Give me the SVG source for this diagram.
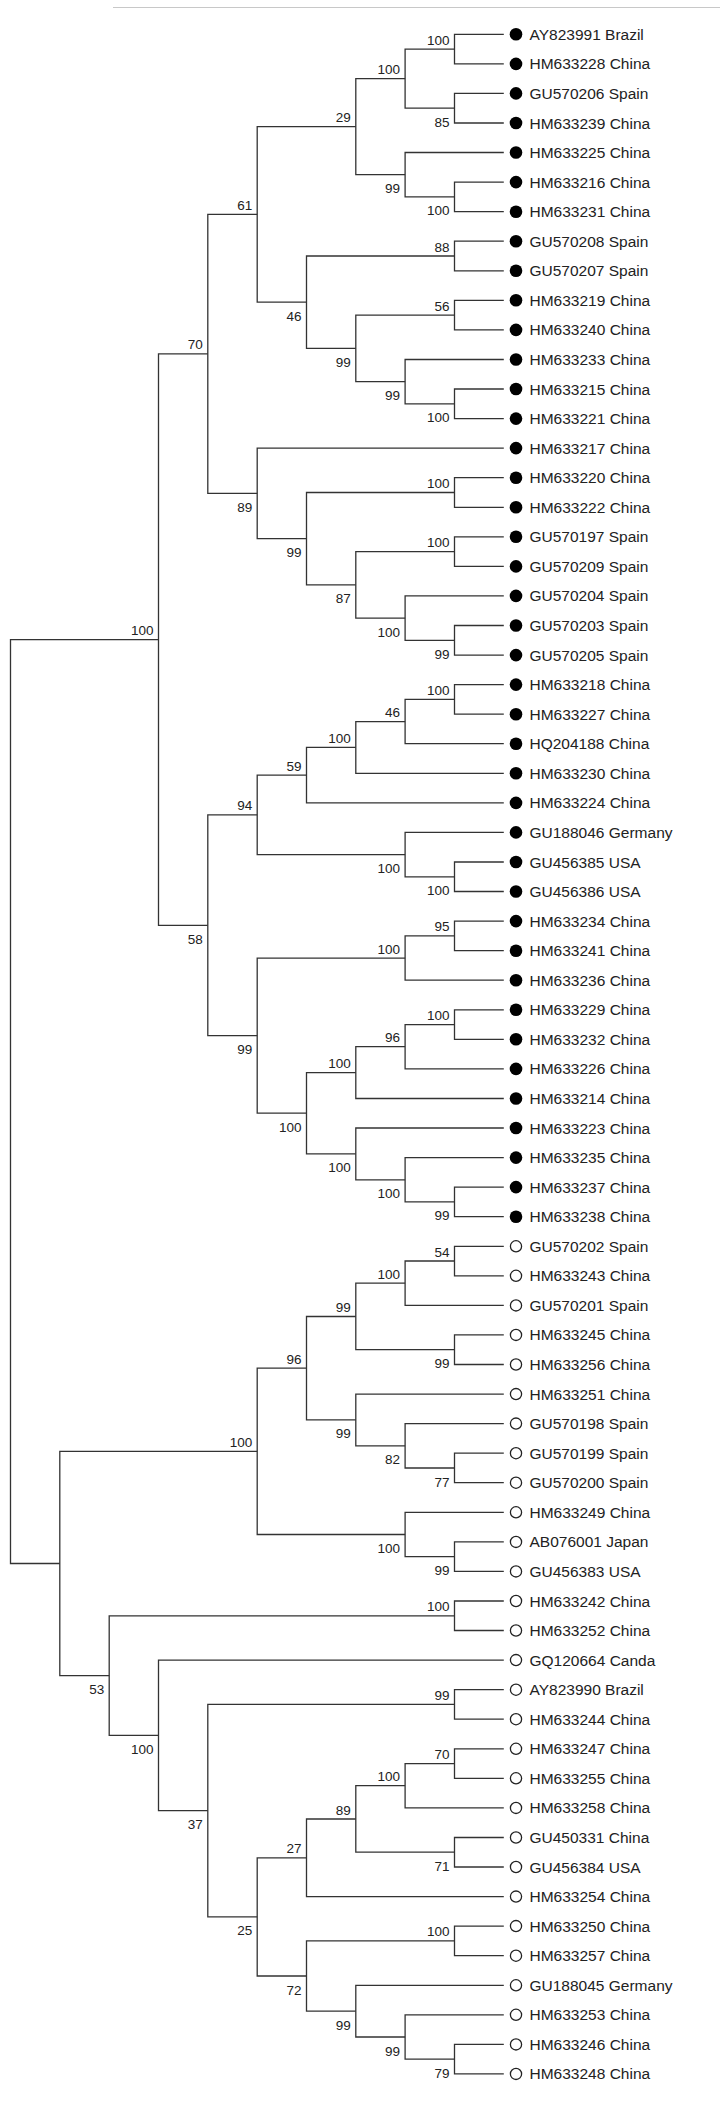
<svg xmlns="http://www.w3.org/2000/svg" width="720" height="2102" viewBox="0 0 720 2102">
<style>
.c{fill:none;stroke:#333;stroke-width:1.3}
.b{font-family:"Liberation Sans",Arial,sans-serif;font-size:13.5px;fill:#222;text-anchor:end}
.t{font-family:"Liberation Sans",Arial,sans-serif;font-size:15.5px;fill:#222}
.f{fill:#000}
.o{fill:#fff;stroke:#222;stroke-width:1.3}
</style>
<rect width="720" height="2102" fill="#fff"/>
<line x1="113" y1="7.5" x2="720" y2="7.5" stroke="#c8c8c8" stroke-width="1.2"/>
<g id="connectors" class="c">
<path d="M503.8 34.3H454.5V63.9H503.8"/>
<path d="M503.8 93.4H454.5V123H503.8"/>
<path d="M454.5 49.1H405.1V108.2H454.5"/>
<path d="M503.8 182.1H454.5V211.7H503.8"/>
<path d="M503.8 152.5H405.1V196.9H454.5"/>
<path d="M405.1 78.6H355.8V174.7H405.1"/>
<path d="M503.8 241.2H454.5V270.8H503.8"/>
<path d="M503.8 300.3H454.5V329.9H503.8"/>
<path d="M503.8 389H454.5V418.6H503.8"/>
<path d="M503.8 359.5H405.1V403.8H454.5"/>
<path d="M454.5 315.1H355.8V381.6H405.1"/>
<path d="M454.5 256H306.5V348.4H355.8"/>
<path d="M355.8 126.7H257.2V302.2H306.5"/>
<path d="M503.8 477.7H454.5V507.3H503.8"/>
<path d="M503.8 536.8H454.5V566.4H503.8"/>
<path d="M503.8 625.5H454.5V655.1H503.8"/>
<path d="M503.8 595.9H405.1V640.3H454.5"/>
<path d="M454.5 551.6H355.8V618.1H405.1"/>
<path d="M454.5 492.5H306.5V584.9H355.8"/>
<path d="M503.8 448.1H257.2V538.7H306.5"/>
<path d="M257.2 214.4H207.8V493.4H257.2"/>
<path d="M503.8 684.6H454.5V714.2H503.8"/>
<path d="M454.5 699.4H405.1V743.7H503.8"/>
<path d="M405.1 721.6H355.8V773.3H503.8"/>
<path d="M355.8 747.4H306.5V802.9H503.8"/>
<path d="M503.8 862H454.5V891.5H503.8"/>
<path d="M503.8 832.4H405.1V876.8H454.5"/>
<path d="M306.5 775.2H257.2V854.6H405.1"/>
<path d="M503.8 921.1H454.5V950.7H503.8"/>
<path d="M454.5 935.9H405.1V980.2H503.8"/>
<path d="M503.8 1009.8H454.5V1039.3H503.8"/>
<path d="M454.5 1024.6H405.1V1068.9H503.8"/>
<path d="M405.1 1046.7H355.8V1098.5H503.8"/>
<path d="M503.8 1187.1H454.5V1216.7H503.8"/>
<path d="M503.8 1157.6H405.1V1201.9H454.5"/>
<path d="M503.8 1128H355.8V1179.8H405.1"/>
<path d="M355.8 1072.6H306.5V1153.9H355.8"/>
<path d="M405.1 958.1H257.2V1113.2H306.5"/>
<path d="M257.2 814.9H207.8V1035.6H257.2"/>
<path d="M207.8 353.9H158.5V925.3H207.8"/>
<path d="M503.8 1246.3H454.5V1275.8H503.8"/>
<path d="M454.5 1261H405.1V1305.4H503.8"/>
<path d="M503.8 1334.9H454.5V1364.5H503.8"/>
<path d="M405.1 1283.2H355.8V1349.7H454.5"/>
<path d="M503.8 1453.2H454.5V1482.7H503.8"/>
<path d="M503.8 1423.6H405.1V1468H454.5"/>
<path d="M503.8 1394.1H355.8V1445.8H405.1"/>
<path d="M355.8 1316.5H306.5V1419.9H355.8"/>
<path d="M503.8 1541.9H454.5V1571.4H503.8"/>
<path d="M503.8 1512.3H405.1V1556.6H454.5"/>
<path d="M306.5 1368.2H257.2V1534.5H405.1"/>
<path d="M503.8 1601H454.5V1630.5H503.8"/>
<path d="M503.8 1689.7H454.5V1719.2H503.8"/>
<path d="M503.8 1748.8H454.5V1778.3H503.8"/>
<path d="M454.5 1763.6H405.1V1807.9H503.8"/>
<path d="M503.8 1837.5H454.5V1867H503.8"/>
<path d="M405.1 1785.7H355.8V1852.2H454.5"/>
<path d="M355.8 1819H306.5V1896.6H503.8"/>
<path d="M503.8 1926.1H454.5V1955.7H503.8"/>
<path d="M503.8 2044.4H454.5V2073.9H503.8"/>
<path d="M503.8 2014.8H405.1V2059.2H454.5"/>
<path d="M503.8 1985.3H355.8V2037H405.1"/>
<path d="M454.5 1940.9H306.5V2011.1H355.8"/>
<path d="M306.5 1857.8H257.2V1976H306.5"/>
<path d="M454.5 1704.4H207.8V1916.9H257.2"/>
<path d="M503.8 1660.1H158.5V1810.7H207.8"/>
<path d="M454.5 1615.8H109.2V1735.4H158.5"/>
<path d="M257.2 1451.3H59.8V1675.6H109.2"/>
<path d="M158.5 639.6H10.5V1563.5H59.8"/>
</g>
<g id="bootstrap" class="b">
<text x="449.5" y="44.6">100</text>
<text x="449.5" y="126.7">85</text>
<text x="400.1" y="74.1">100</text>
<text x="449.5" y="215.4">100</text>
<text x="400.1" y="193.2">99</text>
<text x="350.8" y="122.2">29</text>
<text x="449.5" y="251.5">88</text>
<text x="449.5" y="310.6">56</text>
<text x="449.5" y="422.3">100</text>
<text x="400.1" y="400.1">99</text>
<text x="350.8" y="366.9">99</text>
<text x="301.5" y="320.7">46</text>
<text x="252.2" y="209.9">61</text>
<text x="449.5" y="488">100</text>
<text x="449.5" y="547.1">100</text>
<text x="449.5" y="658.8">99</text>
<text x="400.1" y="636.6">100</text>
<text x="350.8" y="603.4">87</text>
<text x="301.5" y="557.2">99</text>
<text x="252.2" y="511.9">89</text>
<text x="202.8" y="349.4">70</text>
<text x="449.5" y="694.9">100</text>
<text x="400.1" y="717.1">46</text>
<text x="350.8" y="742.9">100</text>
<text x="301.5" y="770.7">59</text>
<text x="449.5" y="895.3">100</text>
<text x="400.1" y="873.1">100</text>
<text x="252.2" y="810.4">94</text>
<text x="449.5" y="931.4">95</text>
<text x="400.1" y="953.6">100</text>
<text x="449.5" y="1020.1">100</text>
<text x="400.1" y="1042.2">96</text>
<text x="350.8" y="1068.1">100</text>
<text x="449.5" y="1220.4">99</text>
<text x="400.1" y="1198.3">100</text>
<text x="350.8" y="1172.4">100</text>
<text x="301.5" y="1131.7">100</text>
<text x="252.2" y="1054.1">99</text>
<text x="202.8" y="943.8">58</text>
<text x="153.5" y="635.1">100</text>
<text x="449.5" y="1256.5">54</text>
<text x="400.1" y="1278.7">100</text>
<text x="449.5" y="1368.2">99</text>
<text x="350.8" y="1312">99</text>
<text x="449.5" y="1486.5">77</text>
<text x="400.1" y="1464.3">82</text>
<text x="350.8" y="1438.4">99</text>
<text x="301.5" y="1363.7">96</text>
<text x="449.5" y="1575.1">99</text>
<text x="400.1" y="1553">100</text>
<text x="252.2" y="1446.8">100</text>
<text x="449.5" y="1611.3">100</text>
<text x="449.5" y="1699.9">99</text>
<text x="449.5" y="1759.1">70</text>
<text x="400.1" y="1781.2">100</text>
<text x="449.5" y="1870.7">71</text>
<text x="350.8" y="1814.5">89</text>
<text x="301.5" y="1853.3">27</text>
<text x="449.5" y="1936.4">100</text>
<text x="449.5" y="2077.7">79</text>
<text x="400.1" y="2055.5">99</text>
<text x="350.8" y="2029.6">99</text>
<text x="301.5" y="1994.5">72</text>
<text x="252.2" y="1935.4">25</text>
<text x="202.8" y="1829.2">37</text>
<text x="153.5" y="1753.9">100</text>
<text x="104.2" y="1694.1">53</text>
</g>
<g id="leaf1"><circle class="f" cx="516" cy="34.3" r="6.3"/><text class="t" x="529.5" y="39.8">AY823991 Brazil</text></g>
<g id="leaf2"><circle class="f" cx="516" cy="63.9" r="6.3"/><text class="t" x="529.5" y="69.4">HM633228 China</text></g>
<g id="leaf3"><circle class="f" cx="516" cy="93.4" r="6.3"/><text class="t" x="529.5" y="98.9">GU570206 Spain</text></g>
<g id="leaf4"><circle class="f" cx="516" cy="123" r="6.3"/><text class="t" x="529.5" y="128.5">HM633239 China</text></g>
<g id="leaf5"><circle class="f" cx="516" cy="152.5" r="6.3"/><text class="t" x="529.5" y="158">HM633225 China</text></g>
<g id="leaf6"><circle class="f" cx="516" cy="182.1" r="6.3"/><text class="t" x="529.5" y="187.6">HM633216 China</text></g>
<g id="leaf7"><circle class="f" cx="516" cy="211.7" r="6.3"/><text class="t" x="529.5" y="217.2">HM633231 China</text></g>
<g id="leaf8"><circle class="f" cx="516" cy="241.2" r="6.3"/><text class="t" x="529.5" y="246.7">GU570208 Spain</text></g>
<g id="leaf9"><circle class="f" cx="516" cy="270.8" r="6.3"/><text class="t" x="529.5" y="276.3">GU570207 Spain</text></g>
<g id="leaf10"><circle class="f" cx="516" cy="300.3" r="6.3"/><text class="t" x="529.5" y="305.8">HM633219 China</text></g>
<g id="leaf11"><circle class="f" cx="516" cy="329.9" r="6.3"/><text class="t" x="529.5" y="335.4">HM633240 China</text></g>
<g id="leaf12"><circle class="f" cx="516" cy="359.5" r="6.3"/><text class="t" x="529.5" y="365">HM633233 China</text></g>
<g id="leaf13"><circle class="f" cx="516" cy="389" r="6.3"/><text class="t" x="529.5" y="394.5">HM633215 China</text></g>
<g id="leaf14"><circle class="f" cx="516" cy="418.6" r="6.3"/><text class="t" x="529.5" y="424.1">HM633221 China</text></g>
<g id="leaf15"><circle class="f" cx="516" cy="448.1" r="6.3"/><text class="t" x="529.5" y="453.6">HM633217 China</text></g>
<g id="leaf16"><circle class="f" cx="516" cy="477.7" r="6.3"/><text class="t" x="529.5" y="483.2">HM633220 China</text></g>
<g id="leaf17"><circle class="f" cx="516" cy="507.3" r="6.3"/><text class="t" x="529.5" y="512.8">HM633222 China</text></g>
<g id="leaf18"><circle class="f" cx="516" cy="536.8" r="6.3"/><text class="t" x="529.5" y="542.3">GU570197 Spain</text></g>
<g id="leaf19"><circle class="f" cx="516" cy="566.4" r="6.3"/><text class="t" x="529.5" y="571.9">GU570209 Spain</text></g>
<g id="leaf20"><circle class="f" cx="516" cy="595.9" r="6.3"/><text class="t" x="529.5" y="601.4">GU570204 Spain</text></g>
<g id="leaf21"><circle class="f" cx="516" cy="625.5" r="6.3"/><text class="t" x="529.5" y="631">GU570203 Spain</text></g>
<g id="leaf22"><circle class="f" cx="516" cy="655.1" r="6.3"/><text class="t" x="529.5" y="660.6">GU570205 Spain</text></g>
<g id="leaf23"><circle class="f" cx="516" cy="684.6" r="6.3"/><text class="t" x="529.5" y="690.1">HM633218 China</text></g>
<g id="leaf24"><circle class="f" cx="516" cy="714.2" r="6.3"/><text class="t" x="529.5" y="719.7">HM633227 China</text></g>
<g id="leaf25"><circle class="f" cx="516" cy="743.7" r="6.3"/><text class="t" x="529.5" y="749.2">HQ204188 China</text></g>
<g id="leaf26"><circle class="f" cx="516" cy="773.3" r="6.3"/><text class="t" x="529.5" y="778.8">HM633230 China</text></g>
<g id="leaf27"><circle class="f" cx="516" cy="802.9" r="6.3"/><text class="t" x="529.5" y="808.4">HM633224 China</text></g>
<g id="leaf28"><circle class="f" cx="516" cy="832.4" r="6.3"/><text class="t" x="529.5" y="837.9">GU188046 Germany</text></g>
<g id="leaf29"><circle class="f" cx="516" cy="862" r="6.3"/><text class="t" x="529.5" y="867.5">GU456385 USA</text></g>
<g id="leaf30"><circle class="f" cx="516" cy="891.5" r="6.3"/><text class="t" x="529.5" y="897">GU456386 USA</text></g>
<g id="leaf31"><circle class="f" cx="516" cy="921.1" r="6.3"/><text class="t" x="529.5" y="926.6">HM633234 China</text></g>
<g id="leaf32"><circle class="f" cx="516" cy="950.7" r="6.3"/><text class="t" x="529.5" y="956.2">HM633241 China</text></g>
<g id="leaf33"><circle class="f" cx="516" cy="980.2" r="6.3"/><text class="t" x="529.5" y="985.7">HM633236 China</text></g>
<g id="leaf34"><circle class="f" cx="516" cy="1009.8" r="6.3"/><text class="t" x="529.5" y="1015.3">HM633229 China</text></g>
<g id="leaf35"><circle class="f" cx="516" cy="1039.3" r="6.3"/><text class="t" x="529.5" y="1044.8">HM633232 China</text></g>
<g id="leaf36"><circle class="f" cx="516" cy="1068.9" r="6.3"/><text class="t" x="529.5" y="1074.4">HM633226 China</text></g>
<g id="leaf37"><circle class="f" cx="516" cy="1098.5" r="6.3"/><text class="t" x="529.5" y="1104">HM633214 China</text></g>
<g id="leaf38"><circle class="f" cx="516" cy="1128" r="6.3"/><text class="t" x="529.5" y="1133.5">HM633223 China</text></g>
<g id="leaf39"><circle class="f" cx="516" cy="1157.6" r="6.3"/><text class="t" x="529.5" y="1163.1">HM633235 China</text></g>
<g id="leaf40"><circle class="f" cx="516" cy="1187.1" r="6.3"/><text class="t" x="529.5" y="1192.6">HM633237 China</text></g>
<g id="leaf41"><circle class="f" cx="516" cy="1216.7" r="6.3"/><text class="t" x="529.5" y="1222.2">HM633238 China</text></g>
<g id="leaf42"><circle class="o" cx="516" cy="1246.3" r="5.6"/><text class="t" x="529.5" y="1251.8">GU570202 Spain</text></g>
<g id="leaf43"><circle class="o" cx="516" cy="1275.8" r="5.6"/><text class="t" x="529.5" y="1281.3">HM633243 China</text></g>
<g id="leaf44"><circle class="o" cx="516" cy="1305.4" r="5.6"/><text class="t" x="529.5" y="1310.9">GU570201 Spain</text></g>
<g id="leaf45"><circle class="o" cx="516" cy="1334.9" r="5.6"/><text class="t" x="529.5" y="1340.4">HM633245 China</text></g>
<g id="leaf46"><circle class="o" cx="516" cy="1364.5" r="5.6"/><text class="t" x="529.5" y="1370">HM633256 China</text></g>
<g id="leaf47"><circle class="o" cx="516" cy="1394.1" r="5.6"/><text class="t" x="529.5" y="1399.6">HM633251 China</text></g>
<g id="leaf48"><circle class="o" cx="516" cy="1423.6" r="5.6"/><text class="t" x="529.5" y="1429.1">GU570198 Spain</text></g>
<g id="leaf49"><circle class="o" cx="516" cy="1453.2" r="5.6"/><text class="t" x="529.5" y="1458.7">GU570199 Spain</text></g>
<g id="leaf50"><circle class="o" cx="516" cy="1482.7" r="5.6"/><text class="t" x="529.5" y="1488.2">GU570200 Spain</text></g>
<g id="leaf51"><circle class="o" cx="516" cy="1512.3" r="5.6"/><text class="t" x="529.5" y="1517.8">HM633249 China</text></g>
<g id="leaf52"><circle class="o" cx="516" cy="1541.9" r="5.6"/><text class="t" x="529.5" y="1547.4">AB076001 Japan</text></g>
<g id="leaf53"><circle class="o" cx="516" cy="1571.4" r="5.6"/><text class="t" x="529.5" y="1576.9">GU456383 USA</text></g>
<g id="leaf54"><circle class="o" cx="516" cy="1601" r="5.6"/><text class="t" x="529.5" y="1606.5">HM633242 China</text></g>
<g id="leaf55"><circle class="o" cx="516" cy="1630.5" r="5.6"/><text class="t" x="529.5" y="1636">HM633252 China</text></g>
<g id="leaf56"><circle class="o" cx="516" cy="1660.1" r="5.6"/><text class="t" x="529.5" y="1665.6">GQ120664 Canda</text></g>
<g id="leaf57"><circle class="o" cx="516" cy="1689.7" r="5.6"/><text class="t" x="529.5" y="1695.2">AY823990 Brazil</text></g>
<g id="leaf58"><circle class="o" cx="516" cy="1719.2" r="5.6"/><text class="t" x="529.5" y="1724.7">HM633244 China</text></g>
<g id="leaf59"><circle class="o" cx="516" cy="1748.8" r="5.6"/><text class="t" x="529.5" y="1754.3">HM633247 China</text></g>
<g id="leaf60"><circle class="o" cx="516" cy="1778.3" r="5.6"/><text class="t" x="529.5" y="1783.8">HM633255 China</text></g>
<g id="leaf61"><circle class="o" cx="516" cy="1807.9" r="5.6"/><text class="t" x="529.5" y="1813.4">HM633258 China</text></g>
<g id="leaf62"><circle class="o" cx="516" cy="1837.5" r="5.6"/><text class="t" x="529.5" y="1843">GU450331 China</text></g>
<g id="leaf63"><circle class="o" cx="516" cy="1867" r="5.6"/><text class="t" x="529.5" y="1872.5">GU456384 USA</text></g>
<g id="leaf64"><circle class="o" cx="516" cy="1896.6" r="5.6"/><text class="t" x="529.5" y="1902.1">HM633254 China</text></g>
<g id="leaf65"><circle class="o" cx="516" cy="1926.1" r="5.6"/><text class="t" x="529.5" y="1931.6">HM633250 China</text></g>
<g id="leaf66"><circle class="o" cx="516" cy="1955.7" r="5.6"/><text class="t" x="529.5" y="1961.2">HM633257 China</text></g>
<g id="leaf67"><circle class="o" cx="516" cy="1985.3" r="5.6"/><text class="t" x="529.5" y="1990.8">GU188045 Germany</text></g>
<g id="leaf68"><circle class="o" cx="516" cy="2014.8" r="5.6"/><text class="t" x="529.5" y="2020.3">HM633253 China</text></g>
<g id="leaf69"><circle class="o" cx="516" cy="2044.4" r="5.6"/><text class="t" x="529.5" y="2049.9">HM633246 China</text></g>
<g id="leaf70"><circle class="o" cx="516" cy="2073.9" r="5.6"/><text class="t" x="529.5" y="2079.4">HM633248 China</text></g>
</svg>
